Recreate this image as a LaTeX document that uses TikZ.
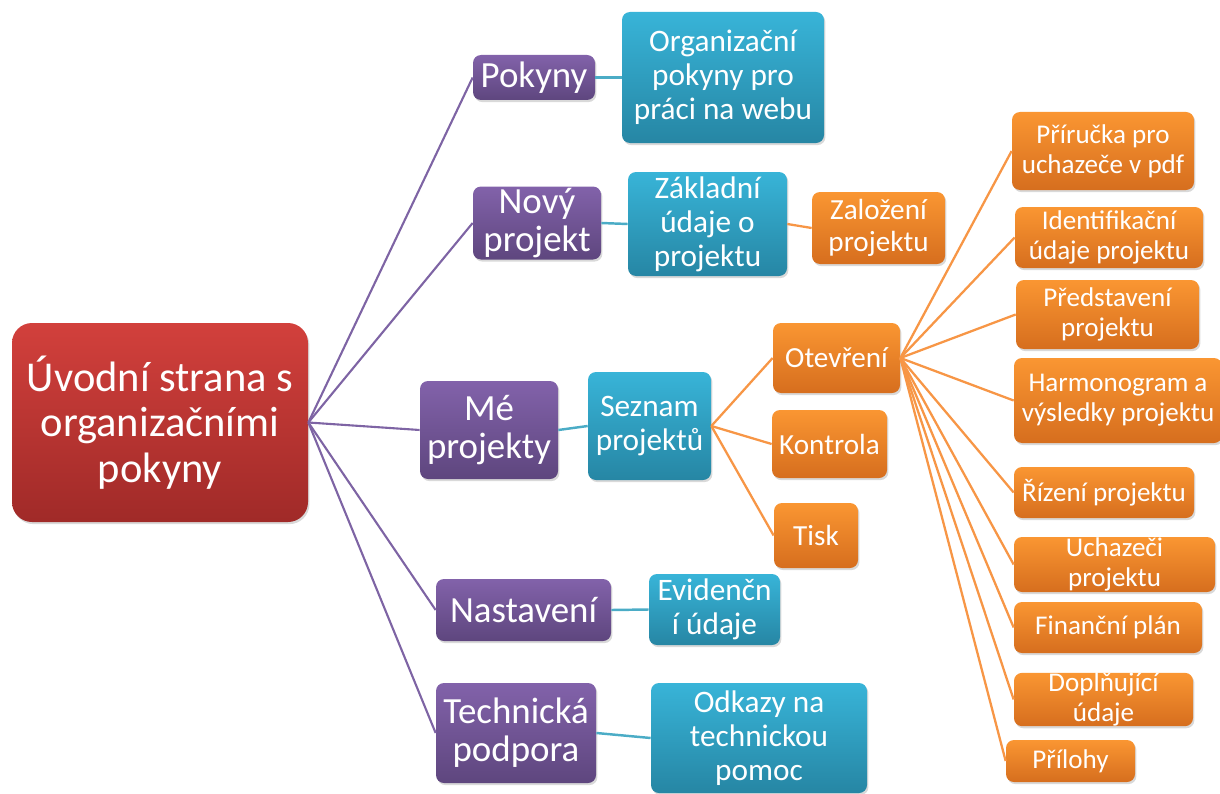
\documentclass[tikz,border=0pt]{standalone}
\usepackage{fontspec}
\setmainfont{Carlito}
\usetikzlibrary{shadows}
\definecolor{rtop}{RGB}{210,64,60}
\definecolor{rbot}{RGB}{160,42,40}
\definecolor{ptop}{RGB}{130,98,170}
\definecolor{pbot}{RGB}{94,70,126}
\definecolor{btop}{RGB}{56,180,216}
\definecolor{bbot}{RGB}{38,134,164}
\definecolor{otop}{RGB}{250,150,50}
\definecolor{obot}{RGB}{214,110,30}
\definecolor{pline}{RGB}{126,100,164}
\definecolor{bline}{RGB}{75,172,198}
\definecolor{oline}{RGB}{247,150,70}
\tikzset{
  wh/.style 2 args = {minimum width = #1*0.02cm, minimum height = #2*0.02cm},
  box/.style = {rounded corners = 0.16cm, inner sep = 0, align = center, text = white,
    drop shadow = {shadow xshift = 0.8pt, shadow yshift = -1.2pt, opacity = 0.3}},
  rootbox/.style = {box, rounded corners = 0.4cm, top color = rtop, bottom color = rbot,
    font = \fontsize{24.2}{26}\selectfont},
  purplebox/.style = {box, top color = ptop, bottom color = pbot,
    font = \fontsize{21}{21.8}\selectfont},
  bluebox/.style = {box, top color = btop, bottom color = bbot,
    font = \fontsize{17.8}{19.3}\selectfont},
  orangebox/.style = {box, top color = otop, bottom color = obot,
    font = \fontsize{16.6}{18}\selectfont},
  leafbox/.style = {orangebox, font = \fontsize{15.4}{17}\selectfont},
  pedge/.style = {pline, line width = 1.2pt},
  bedge/.style = {bline, line width = 1.4pt},
  oedge/.style = {oline, line width = 1.3pt}
}

\begin{document}
\begin{tikzpicture}[x = 0.02cm, y = -0.02cm]
    \useasboundingbox (0, 0) rectangle (1220, 794);
    \clip (0, 0) rectangle (1220, 794);

    \node [rootbox, wh = {296}{199}] (root) at (160, 422.5) {Úvodní strana s\\organizačními\\pokyny};

    \node [purplebox, wh = {122}{45}] (pokyny) at (534, 77.5) {Pokyny};
    \node [purplebox, wh = {128}{73}] (novy) at (537, 223) {Nový\\projekt};
    \node [purplebox, wh = {138}{98}] (me) at (489, 430) {Mé\\projekty};
    \node [purplebox, wh = {175}{62}] (nastaveni) at (523.5, 610) {Nastavení};
    \node [purplebox, wh = {160}{100}] (podpora) at (516, 733) {Technická\\podpora};

    \node [bluebox, wh = {202}{131}] (organizacni) at (723, 77.5) {Organizační\\pokyny pro\\práci na webu};
    \node [bluebox, wh = {159}{104}] (zakladni) at (707.5, 224) {Základní\\údaje o\\projektu};
    \node [bluebox, wh = {123}{108}] (seznam) at (649.5, 426) {Seznam\\projektů};
    \node [bluebox, wh = {131}{71}] (evidencni) at (714.5, 609.5) {Evidenčn\\í údaje};
    \node [bluebox, wh = {216}{110}] (odkazy) at (759, 738) {Odkazy na\\technickou\\pomoc};

    \node [orangebox, wh = {133}{72}] (zalozeni) at (878.5, 228) {Založení\\projektu};
    \node [orangebox, wh = {127}{70}] (otevreni) at (836.5, 358) {Otevření};
    \node [orangebox, wh = {115}{68}] (kontrola) at (829.5, 444) {Kontrola};
    \node [orangebox, wh = {84}{65}] (tisk) at (816, 535.5) {Tisk};

    \node [leafbox, wh = {182}{78}] (prirucka) at (1103, 151) {Příručka pro\\uchazeče v pdf};
    \node [leafbox, wh = {188}{61}] (identifikace) at (1109, 237.5) {Identifikační\\údaje projektu};
    \node [leafbox, wh = {183}{69}] (predstaveni) at (1107.5, 314.5) {Představení\\projektu};
    \node [leafbox, wh = {208}{85}] (harmonogram) at (1118, 400.5) {Harmonogram a\\výsledky projektu};
    \node [leafbox, wh = {180}{51}] (rizeni) at (1104, 492.5) {Řízení projektu};
    \node [leafbox, wh = {201}{55}] (uchazeci) at (1114.5, 564.5) {Uchazeči\\projektu};
    \node [leafbox, wh = {188}{51}] (financni) at (1108, 627.5) {Finanční plán};
    \node [leafbox, wh = {179}{53}] (doplnujici) at (1103.5, 699.5) {Doplňující\\údaje};
    \node [leafbox, wh = {129}{42}] (prilohy) at (1070.5, 761) {Přílohy};

    \draw [pedge] (root.east) -- (pokyny.west);
    \draw [pedge] (root.east) -- (novy.west);
    \draw [pedge] (root.east) -- (me.west);
    \draw [pedge] (root.east) -- (nastaveni.west);
    \draw [pedge] (root.east) -- (podpora.west);

    \draw [bedge] (pokyny.east) -- (organizacni.west);
    \draw [bedge] (novy.east) -- (zakladni.west);
    \draw [bedge] (me.east) -- (seznam.west);
    \draw [bedge] (nastaveni.east) -- (evidencni.west);
    \draw [bedge] (podpora.east) -- (odkazy.west);

    \draw [oedge] (zakladni.east) -- (zalozeni.west);
    \draw [oedge] (seznam.east) -- (otevreni.west);
    \draw [oedge] (seznam.east) -- (kontrola.west);
    \draw [oedge] (seznam.east) -- (tisk.west);

    \draw [oedge] (otevreni.east) -- (prirucka.west);
    \draw [oedge] (otevreni.east) -- (identifikace.west);
    \draw [oedge] (otevreni.east) -- (predstaveni.west);
    \draw [oedge] (otevreni.east) -- (harmonogram.west);
    \draw [oedge] (otevreni.east) -- (rizeni.west);
    \draw [oedge] (otevreni.east) -- (uchazeci.west);
    \draw [oedge] (otevreni.east) -- (financni.west);
    \draw [oedge] (otevreni.east) -- (doplnujici.west);
    \draw [oedge] (otevreni.east) -- (prilohy.west);
  \end{tikzpicture}
\end{document}
